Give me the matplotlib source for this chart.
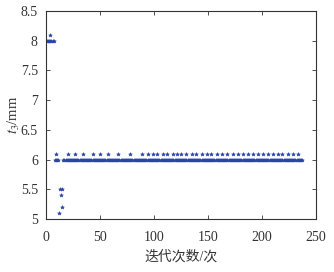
import matplotlib
matplotlib.use("Agg")
from matplotlib import pyplot as plt

plt.rcParams["mathtext.fontset"] = "stix"

# iteration / t3 value pairs
start_x = [1, 2, 3, 4, 5, 6, 7, 4]
start_y = [8.0, 8.0, 8.0, 8.0, 8.0, 8.0, 8.0, 8.1]

drop_x = [12, 13, 15, 14, 15]
drop_y = [5.1, 5.5, 5.5, 5.4, 5.2]

flat_x = [8, 9, 10, 11] + list(range(16, 238))
flat_y = [6.0] * len(flat_x)

upper_x = [9, 20, 27, 34, 43, 50, 57, 67, 78, 89, 94, 99, 103, 108, 112, 118,
           121, 125, 130, 135, 139, 144, 149, 153, 158, 163, 168, 173, 178,
           182, 187, 192, 196, 201, 206, 210, 215, 219, 224, 229, 233]
upper_y = [6.1] * len(upper_x)

serif = ["Liberation Serif", "Noto Sans CJK SC"]
blue = "#2b44a8"

fig = plt.figure(figsize=(3.34, 2.72), dpi=100)
ax = fig.add_axes([0.138, 0.195, 0.808, 0.765])

for xs, ys in [(start_x, start_y), (drop_x, drop_y), (flat_x, flat_y), (upper_x, upper_y)]:
    ax.plot(xs, ys, linestyle="none", marker="*", markersize=2.8, color=blue,
            markeredgewidth=0.4)

ax.set_xlim(0, 250)
ax.set_ylim(5, 8.5)
ax.set_xticks([0, 50, 100, 150, 200, 250])
ax.set_yticks([5, 5.5, 6, 6.5, 7, 7.5, 8, 8.5])
ax.set_yticklabels(["5", "5.5", "6", "6.5", "7", "7.5", "8", "8.5"])
ax.tick_params(direction="in", top=True, right=True, length=3, width=0.6,
               colors="#333333", labelsize=10)
ax.tick_params(axis="x", pad=9)
ax.tick_params(axis="y", pad=6)
for lab in ax.get_xticklabels() + ax.get_yticklabels():
    lab.set_family(serif)
for sp in ax.spines.values():
    sp.set_color("#333333")
    sp.set_linewidth(0.8)

ax.set_xlabel("迭代次数/次", family=serif, fontsize=10, color="#333333", labelpad=4)
ax.set_ylabel("$t_3$/mm", family=serif, fontsize=10.5, color="#333333")
ax.yaxis.set_label_coords(-0.09, 0.5)

fig.savefig("out.png", dpi=100)
